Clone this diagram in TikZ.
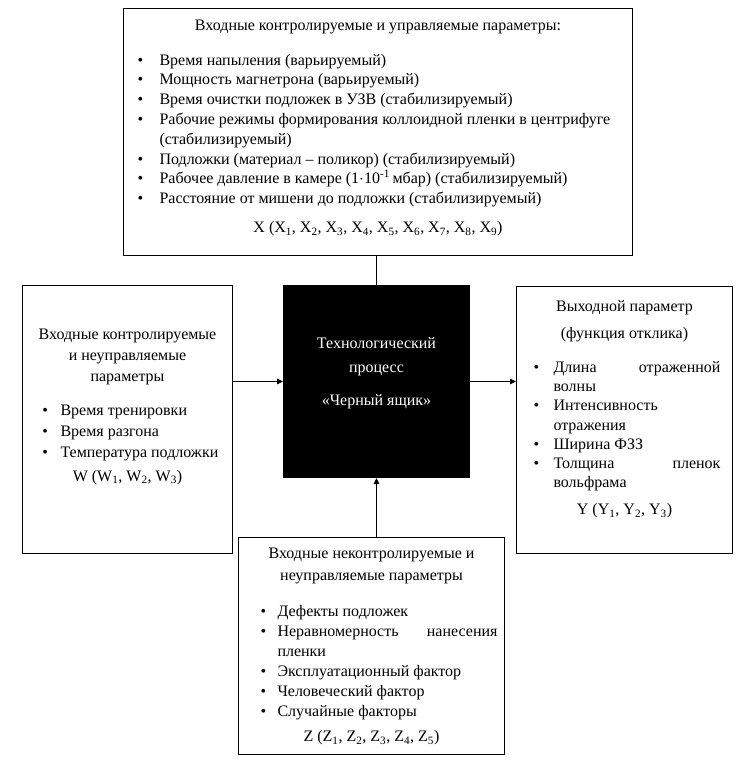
\documentclass[tikz,border=0pt]{standalone}
\usepackage{fontspec}
\setmainfont{Liberation Serif}
\usetikzlibrary{arrows.meta,positioning}

% bullet list: #1 bullet offset, #2 text offset, #3 right margin
\newenvironment{bullets}[3]{%
  \begin{list}{\textbullet}{%
    \setlength\leftmargin{#2}\setlength\rightmargin{#3}%
    \setlength\labelwidth{8pt}%
    \setlength\labelsep{\dimexpr#2-#1-8pt\relax}%
    \setlength\topsep{0pt}\setlength\partopsep{0pt}%
    \setlength\itemsep{0pt}\setlength\parsep{0pt}%
    \def\makelabel##1{\hbox to\labelwidth{##1\hfil}}}}
  {\end{list}}

\begin{document}
\begin{tikzpicture}[x=1pt,y=-1pt,
  box/.style={draw,line width=1pt,anchor=north west,inner sep=0pt},
  conn/.style={line width=0.9pt},
  arr/.style={conn,-{Triangle[length=6pt,width=5.5pt]}},
]
\useasboundingbox (0,0) rectangle (736,773);

% Controlled, managed inputs
\node[box,font=\fontsize{16pt}{19.8pt}\selectfont] (inX) at (123,8)
  {\parbox[t][247pt][t]{509pt}{\vspace*{8pt}%
   {\centering\strut Входные контролируемые и управляемые параметры:\par}
   \vspace{15pt}
   \begin{bullets}{14pt}{36pt}{4pt}
   \item Время напыления (варьируемый)
   \item Мощность магнетрона (варьируемый)
   \item Время очистки подложек в УЗВ (стабилизируемый)
   \item Рабочие режимы формирования коллоидной пленки в центрифуге\\(стабилизируемый)
   \item Подложки (материал -- поликор) (стабилизируемый)
   \item Рабочее давление в камере (1$\cdot$10\textsuperscript{-1}\,мбар) (стабилизируемый)
   \item Расстояние от мишени до подложки (стабилизируемый)
   \end{bullets}
   \vspace{9pt}
   {\centering X (X\textsubscript{1}, X\textsubscript{2}, X\textsubscript{3}, X\textsubscript{4}, X\textsubscript{5}, X\textsubscript{6}, X\textsubscript{7}, X\textsubscript{8}, X\textsubscript{9})\par}}};

% Controlled, unmanaged inputs
\node[box,font=\fontsize{16pt}{21pt}\selectfont] (inW) at (22,285)
  {\parbox[t][268pt][t]{210pt}{\vspace*{39pt}%
   {\centering\strut Входные контролируемые\\и неуправляемые\\параметры\par}
   \vspace{13pt}
   \begin{bullets}{20pt}{38pt}{2pt}
   \item Время тренировки
   \item Время разгона
   \item Температура подложки
   \end{bullets}
   \vspace{3pt}
   {\centering W (W\textsubscript{1}, W\textsubscript{2}, W\textsubscript{3})\par}}};

% Black box
\node[box,fill=black,text=white,font=\fontsize{16pt}{24pt}\selectfont] (proc) at (283,285)
  {\parbox[t][192pt][t]{186pt}{\vspace*{46pt}%
   {\centering\strut Технологический\\процесс\\[9pt]«Черный ящик»\par}}};

% Output
\node[box,font=\fontsize{16pt}{19.2pt}\selectfont] (outY) at (516,286)
  {\parbox[t][267pt][t]{216pt}{\vspace*{11.5pt}%
   {\centering\strut Выходной параметр\\[7.8pt](функция отклика)\par}
   \vspace{14.8pt}
   \begin{bullets}{17pt}{37pt}{12pt}
   \item Длина\hfill отраженной\\волны
   \item Интенсивность\\отражения
   \item Ширина ФЗЗ
   \item Толщина\hfill пленок\\вольфрама
   \end{bullets}
   \vspace{7.8pt}
   {\centering Y (Y\textsubscript{1}, Y\textsubscript{2}, Y\textsubscript{3})\par}}};

% Uncontrolled, unmanaged inputs
\node[box,font=\fontsize{16pt}{20pt}\selectfont] (inZ) at (238,537)
  {\parbox[t][217pt][t]{266pt}{\vspace*{7pt}%
   {\centering\strut Входные неконтролируемые и\\[2pt]неуправляемые параметры\par}
   \vspace{16pt}
   \begin{bullets}{22pt}{39pt}{7pt}
   \item Дефекты подложек
   \item Неравномерность\hfill нанесения\\пленки
   \item Эксплуатационный фактор
   \item Человеческий фактор
   \item Случайные факторы
   \end{bullets}
   \vspace{5pt}
   {\centering Z (Z\textsubscript{1}, Z\textsubscript{2}, Z\textsubscript{3}, Z\textsubscript{4}, Z\textsubscript{5})\par}}};

% Connectors
\draw[conn] (proc.north |- inX.south) -- (proc.north);
\draw[arr] (proc.west -| inW.east) -- (proc.west);
\draw[arr] (proc.east) -- (proc.east -| outY.west);
\draw[arr] (proc.south |- inZ.north) -- (proc.south);

\end{tikzpicture}
\end{document}
